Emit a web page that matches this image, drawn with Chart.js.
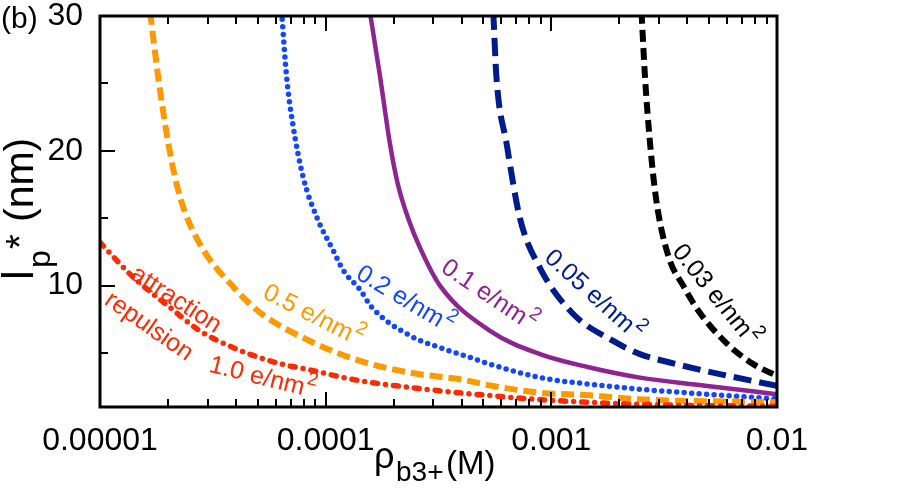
<!DOCTYPE html>
<html>
<head>
<meta charset="utf-8">
<script src="https://cdn.jsdelivr.net/npm/chart.js@4.4.0/dist/chart.umd.min.js"></script>
<style>
body { margin: 0; background: #fff; }
#wrap { width: 913px; height: 497px; position: relative; }
</style>
</head>
<body>
<div id="wrap"><canvas id="myChart"></canvas></div>
<script>
// axes
const rhoTicks = [1e-5, 1e-4, 1e-3, 1e-2]
const rhoTickLabels = ['0.00001', '0.0001', '0.001', '0.01']
const lpTicks = [10, 20, 30]
const lpTickLabels = ['10', '20', '30']
const lpMinorTicks = [5, 15, 25]

// curves, one per surface charge
const rho10 = [1e-5, 1.41e-5, 1.97e-5, 2.77e-5, 3.9e-5, 5.12e-5, 6.49e-5, 8.51e-5, 1.08e-4, 1.42e-4, 2.36e-4, 3.2e-4, 3.94e-4, 8.9e-4, 2.47e-3, 1e-2]
const lp10 = [13.2, 10.6, 8.6, 6.65, 5.4, 4.65, 4.15, 3.75, 3.35, 2.95, 2.45, 2.2, 2.05, 1.55, 1.2, 1.05]

const rho05 = [1.667e-5, 1.81e-5, 2.01e-5, 2.26e-5, 2.77e-5, 3.9e-5, 5.12e-5, 8.51e-5, 1.42e-4, 2.36e-4, 3.21e-4, 3.94e-4, 5.35e-4, 8.9e-4, 1.48e-3, 2.47e-3, 1e-2]
const lp05 = [30.3, 25.5, 20.5, 16.6, 13.1, 9.9, 8.0, 5.9, 4.42, 3.55, 3.25, 3.06, 2.6, 2.06, 1.87, 1.57, 1.35]

const rho02 = [6.38e-5, 6.71e-5, 7.18e-5, 7.96e-5, 9.12e-5, 1.08e-4, 1.2e-4, 1.42e-4, 1.6e-4, 2.36e-4, 3.21e-4, 3.94e-4, 5.35e-4, 8.91e-4, 1.48e-3, 2.47e-3, 1e-2]
const lp02 = [30.3, 25.5, 21.8, 18.0, 15.1, 12.6, 11.1, 9.7, 8.4, 6.3, 5.4, 4.92, 4.18, 3.18, 2.69, 2.32, 1.6]

const rho01 = [1.57e-4, 1.742e-4, 1.928e-4, 2.09e-4, 2.32e-4, 2.62e-4, 3.21e-4, 5.35e-4, 8.91e-4, 1.48e-3, 2.47e-3, 4.7e-3, 1e-2]
const lp01 = [30.3, 25.5, 20.5, 17.5, 15.0, 12.8, 10.0, 6.65, 4.92, 3.93, 3.18, 2.6, 1.95]

const rho005 = [5.53e-4, 5.71e-4, 6.34e-4, 7.26e-4, 8.91e-4, 1.25e-3, 1.88e-3, 2.47e-3, 3.35e-3, 5.58e-3, 1e-2]
const lp005 = [30.3, 25.5, 20.5, 15.0, 11.3, 7.9, 5.9, 4.92, 4.3, 3.44, 2.57]

const rho003 = [2.51e-3, 2.6e-3, 2.74e-3, 2.92e-3, 3.3e-3, 3.84e-3, 4.5e-3, 6.0e-3, 7.85e-3, 1e-2]
const lp003 = [30.3, 25.5, 20.5, 16.3, 12.2, 10.0, 8.1, 5.7, 4.18, 3.31]

const font = '"Liberation Sans", Arial, Helvetica, sans-serif'

const toPoints = (xs, ys) => xs.map((x, i) => ({ x: x, y: ys[i] }))

const series = [
    { label: '1.0 e/nm2', xs: rho10, ys: lp10, color: '#ff2a00', width: 5.5, dash: [5, 8, 0, 8], cap: 'round' },
    { label: '0.5 e/nm2', xs: rho05, ys: lp05, color: '#ff9900', width: 6, dash: [13, 6], cap: 'butt' },
    { label: '0.2 e/nm2', xs: rho02, ys: lp02, color: '#1446ff', width: 5.5, dash: [0, 7.5], cap: 'round' },
    { label: '0.1 e/nm2', xs: rho01, ys: lp01, color: '#8e2491', width: 4.5, dash: [], cap: 'butt' },
    { label: '0.05 e/nm2', xs: rho005, ys: lp005, color: '#001c8c', width: 6, dash: [18, 8], cap: 'butt' },
    { label: '0.03 e/nm2', xs: rho003, ys: lp003, color: '#000000', width: 6, dash: [12, 6], cap: 'butt' }
]

// rotated labels next to the curves
const notes = [
    { text: 'attraction', sup: '', x: 177, y: 298, angle: 33, color: '#ff2a00' },
    { text: 'repulsion', sup: '', x: 150, y: 325, angle: 35, color: '#ff2a00' },
    { text: '1.0 e/nm', sup: '2', x: 263, y: 376, angle: 14, color: '#ff2a00' },
    { text: '0.5 e/nm', sup: '2', x: 314, y: 314, angle: 27, color: '#ff9900' },
    { text: '0.2 e/nm', sup: '2', x: 406, y: 298, angle: 31, color: '#1446ff' },
    { text: '0.1 e/nm', sup: '2', x: 490, y: 294, angle: 34, color: '#8e2491' },
    { text: '0.05 e/nm', sup: '2', x: 595, y: 294, angle: 42, color: '#001c8c' },
    { text: '0.03 e/nm', sup: '2', x: 717, y: 294, angle: 51, color: '#000000' }
]

const drawNote = (c, n) => {
    c.save()
    c.translate(n.x, n.y)
    c.rotate(n.angle * Math.PI / 180)
    c.font = '25px ' + font
    const w1 = c.measureText(n.text).width
    c.font = '19px ' + font
    const w2 = n.sup ? c.measureText(n.sup).width + 1 : 0
    const x0 = -(w1 + w2) / 2
    c.fillStyle = n.color
    c.textBaseline = 'alphabetic'
    c.textAlign = 'left'
    c.font = '25px ' + font
    c.fillText(n.text, x0, 9)
    if (n.sup) {
        c.font = '19px ' + font
        c.fillText(n.sup, x0 + w1 + 1, -3)
    }
    c.restore()
}

const framePlugin = {
    id: 'frame',
    afterDraw: chart => {
        const c = chart.ctx
        const a = chart.chartArea
        const sx = chart.scales.x
        const sy = chart.scales.y
        c.save()
        c.strokeStyle = '#000'
        c.lineWidth = 2
        // x ticks, bottom and top, pointing inward
        const xTick = (v, len) => {
            const px = Math.round(sx.getPixelForValue(v))
            c.beginPath()
            c.moveTo(px, a.bottom); c.lineTo(px, a.bottom - len)
            c.moveTo(px, a.top); c.lineTo(px, a.top + len)
            c.stroke()
        }
        rhoTicks.forEach((v, i) => {
            xTick(v, 15)
            if (i < rhoTicks.length - 1) {
                for (let m = 2; m < 10; m++) xTick(v * m, 8)
            }
        })
        // y ticks, left only
        const yTick = (v, len) => {
            const py = Math.round(sy.getPixelForValue(v))
            c.beginPath()
            c.moveTo(a.left, py); c.lineTo(a.left + len, py)
            c.stroke()
        }
        lpTicks.forEach(v => yTick(v, 15))
        lpMinorTicks.forEach(v => yTick(v, 8))
        // frame
        c.lineWidth = 3
        c.strokeRect(a.left, a.top, a.right - a.left, a.bottom - a.top)

        notes.forEach(n => drawNote(c, n))

        c.fillStyle = '#000'
        c.textBaseline = 'alphabetic'
        c.textAlign = 'left'
        // panel letter
        c.font = '30px ' + font
        c.fillText('(b)', 1, 28)

        // y title: l_p*(nm), rotated
        c.save()
        c.translate(33, 280)
        c.rotate(-Math.PI / 2)
        c.font = '44px ' + font
        c.fillText('l', 0, 0)
        c.font = '32px ' + font
        c.fillText('p', 12, 17)
        c.font = '38px ' + font
        c.fillText('*', 31, 0)
        c.font = '41px ' + font
        c.fillText('(nm)', 58, 0)
        c.restore()

        // x title: rho_b3+(M)
        c.font = '36px ' + font
        c.fillText('\u03c1', 374, 468)
        c.font = '28px ' + font
        c.fillText('b3+', 396, 481)
        c.font = '33px ' + font
        c.fillText('(M)', 446, 474)
        c.restore()
    }
}

var ctx = document.getElementById('myChart').getContext('2d');
var myChart = new Chart(ctx, {
    type: 'scatter',
    data: {
        datasets: series.map(s => ({
            label: s.label,
            data: toPoints(s.xs, s.ys),
            showLine: true,
            fill: false,
            pointRadius: 0,
            borderColor: s.color,
            backgroundColor: s.color,
            borderWidth: s.width,
            borderDash: s.dash,
            borderCapStyle: s.cap,
            cubicInterpolationMode: 'monotone'
        }))
    },
    options: {
        responsive: true,
        maintainAspectRatio: false,
        animation: false,
        layout: { padding: { top: 16, right: 136, left: 0, bottom: 0 } },
        plugins: {
            legend: { display: false },
            tooltip: { enabled: false }
        },
        scales: {
            x: {
                type: 'logarithmic',
                min: 1e-5,
                max: 1e-2,
                grid: { display: false, drawTicks: false },
                border: { display: false },
                afterBuildTicks: s => { s.ticks = rhoTicks.map(v => ({ value: v })) },
                afterFit: s => { s.height = 90; s.paddingLeft = 0; s.paddingRight = 0 },
                ticks: {
                    autoSkip: false,
                    maxRotation: 0,
                    padding: 15,
                    color: '#000',
                    font: { family: font, size: 32 },
                    callback: (v, i) => rhoTickLabels[i]
                }
            },
            y: {
                type: 'linear',
                min: 1,
                max: 30,
                grid: { display: false, drawTicks: false },
                border: { display: false },
                afterBuildTicks: s => { s.ticks = lpTicks.map(v => ({ value: v })) },
                afterFit: s => { s.width = 100; s.paddingTop = 0; s.paddingBottom = 0 },
                ticks: {
                    padding: 17,
                    color: '#000',
                    font: { family: font, size: 32 },
                    callback: (v, i) => lpTickLabels[i]
                }
            }
        }
    },
    plugins: [framePlugin]
});
</script>
</body>
</html>
